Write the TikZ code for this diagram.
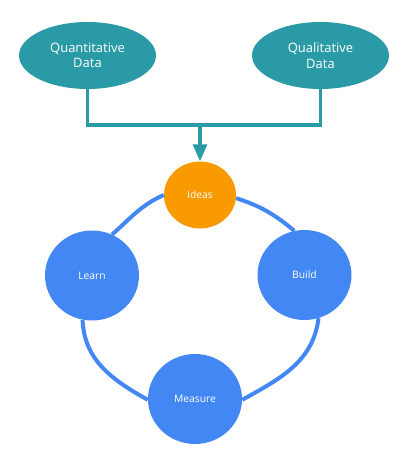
\documentclass[tikz,border=0pt]{standalone}
\usepackage{fontspec}
\setmainfont{Open Sans}
\usetikzlibrary{shapes.geometric,arrows.meta}
\definecolor{teal1}{HTML}{2A9AA7}
\definecolor{orange1}{HTML}{F99A00}
\definecolor{blue1}{HTML}{4287F4}

\begin{document}
\begin{tikzpicture}[x=1pt,y=1pt,
	datanode/.style={shape=ellipse,fill=teal1,text=white,minimum width=137pt,minimum height=67pt,inner sep=0pt,align=center,font=\fontsize{13}{15.5}\selectfont},
	stepnode/.style={shape=ellipse,fill=blue1,text=white,minimum width=94pt,minimum height=90pt,inner sep=0pt,font=\fontsize{10.3}{12}\selectfont},
	feed/.style={draw=teal1,line width=3.2pt},
	ring/.style={draw=blue1,line width=4pt}]
	\useasboundingbox (0,0) rectangle (409,-454);

	\node[datanode] (quan) at (87.5, -55.5) {Quantitative\\Data};
	\node[datanode] (qual) at (320.5, -55.5) {Qualitative\\Data};
	\coordinate (join) at (200, -125);

	\node[stepnode,fill=orange1,minimum width=72pt,minimum height=67pt] (ideas) at (200, -195) {Ideas};
	\node[stepnode] (build)   at (304.5, -275) {Build};
	\node[stepnode] (measure) at (195, -399)   {Measure};
	\node[stepnode] (learn)   at (92, -275.5)  {Learn};

	\path[feed] (quan) |- (join) -| (qual);
	\path[feed,-{Triangle[width=14pt,length=17pt]}] (join) -- (ideas);

	\path[ring] (ideas.-5) to[out=-18, in=140] (build.103);
	\path[ring] (build.-72) to[out=-97, in=29] (measure.-1);
	\path[ring] (measure.181) to[out=151, in=-88] (learn.258);
	\path[ring] (learn.64) to[out=41, in=204] (ideas.180);
\end{tikzpicture}
\end{document}
